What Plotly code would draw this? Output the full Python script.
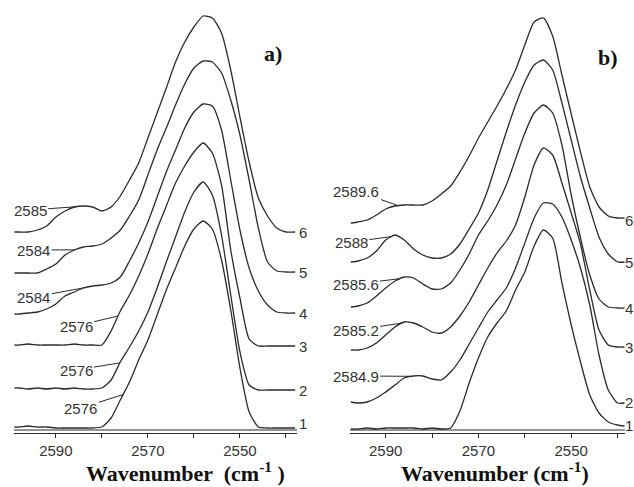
import numpy as np
import plotly.graph_objects as go

# ---------------- data ----------------
# panel a) wavenumber grid (cm-1) and intensities (a.u.)
wn_a = [2599, 2598, 2596, 2594, 2592, 2590, 2588, 2586, 2584, 2582, 2580, 2578,
        2576, 2574, 2572, 2570, 2568, 2566, 2564, 2562, 2560, 2558, 2556, 2554,
        2552, 2550, 2548, 2546, 2544, 2542, 2540, 2538]
a1 = [6, 6, 7, 6, 6, 5, 5, 5, 5, 5, 6, 15, 33, 51, 73, 93, 118, 143, 165, 187, 204, 212,
      204, 173, 123, 65, 21, 6, 5, 5, 5, 5]
a2 = [45, 45, 44, 45, 44, 45, 44, 45, 44, 44, 45, 53, 71, 86, 102, 121, 145, 171, 196, 221,
      241, 251, 238, 198, 138, 81, 48, 43, 43, 43, 43, 43]
a3 = [88, 88, 89, 88, 88, 88, 88, 89, 88, 88, 88, 102, 122, 138, 157, 179, 204, 227, 250,
      267, 281, 290, 280, 248, 183, 135, 94, 87, 87, 87, 87, 87]
a4 = [119, 119, 120, 121, 124, 129, 137, 141, 145, 147, 148, 150, 156, 172, 190, 211, 236,
      261, 283, 305, 321, 329, 327, 303, 253, 203, 165, 142, 128, 121, 120, 120]
a5 = [160, 160, 160, 160, 164, 169, 178, 183, 186, 187, 189, 195, 203, 217, 233, 258, 283,
      305, 328, 349, 365, 372, 371, 360, 333, 298, 253, 205, 171, 162, 161, 161]
a6 = [201, 201, 201, 203, 207, 216, 222, 226, 227, 226, 222, 226, 237, 253, 270, 295, 320,
      345, 371, 391, 406, 417, 415, 400, 363, 316, 271, 235, 217, 205, 201, 201]

# panel b)
wn_b = [2597.5, 2596, 2594, 2592, 2590, 2588, 2586, 2584, 2582, 2580, 2578, 2576, 2574,
        2572, 2570, 2568, 2566, 2564, 2562, 2560, 2558, 2556, 2554, 2552, 2550, 2548,
        2546, 2544, 2542, 2540, 2538.5]
b1 = [4, 4, 5, 4, 5, 5, 5, 5, 4, 5, 4, 5, 22, 50, 75, 96, 110, 122, 143, 161, 187, 203,
      195, 150, 108, 71, 38, 20, 11, 8, 7]
b2 = [31, 30, 31, 35, 41, 48, 55, 57, 57, 54, 53, 61, 73, 89, 105, 121, 133, 145, 165, 190,
      215, 230, 229, 216, 193, 165, 128, 78, 43, 30, 30]
b3 = [83, 83, 85, 90, 98, 106, 111, 110, 106, 101, 100, 106, 117, 131, 148, 165, 180, 192,
      208, 236, 268, 285, 278, 250, 220, 189, 143, 103, 88, 86, 86]
b4 = [126, 127, 130, 137, 145, 152, 156, 155, 149, 144, 144, 150, 163, 179, 198, 212, 228,
      248, 274, 300, 320, 328, 320, 288, 238, 195, 158, 134, 126, 125, 125]
b5 = [171, 172, 175, 182, 193, 198, 193, 184, 178, 175, 175, 179, 189, 204, 220, 243, 272,
      301, 328, 351, 368, 373, 363, 330, 293, 256, 225, 196, 179, 171, 171]
b6 = [210, 211, 213, 218, 224, 227, 228, 228, 228, 232, 239, 247, 261, 277, 295, 311, 327,
      344, 363, 388, 411, 415, 397, 358, 319, 281, 246, 226, 217, 215, 215]

curve_names = ["1", "2", "3", "4", "5", "6"]
peaks_a = ["2576", "2576", "2576", "2584", "2584", "2585"]
peaks_b = [None, "2584.9", "2585.2", "2585.6", "2588", "2589.6"]

major_tick_step = 20   # labelled ticks: 2590, 2570, 2550
minor_tick_step = 10

# ---------------- figure ----------------
LC = "#2b2b2b"
fig = go.Figure()
for ys in [a1, a2, a3, a4, a5, a6]:
    fig.add_trace(go.Scatter(x=wn_a, y=ys, mode="lines", xaxis="x", yaxis="y",
                             line=dict(color=LC, width=1.3, shape="spline", smoothing=0.6),
                             hoverinfo="skip", showlegend=False))
for ys in [b1, b2, b3, b4, b5, b6]:
    fig.add_trace(go.Scatter(x=wn_b, y=ys, mode="lines", xaxis="x2", yaxis="y",
                             line=dict(color=LC, width=1.3, shape="spline", smoothing=0.6),
                             hoverinfo="skip", showlegend=False))

W, H = 634, 487
xa_dom = [14 / W, 297 / W]
xb_dom = [350 / W, 625 / W]
y_dom = [1 - 433 / H, 1 - 5 / H]

axis_common = dict(showgrid=False, zeroline=False, showline=True, linecolor=LC, linewidth=1,
                   ticks="outside", ticklen=4, tickcolor=LC,
                   tickmode="linear", tick0=2550, dtick=major_tick_step,
                   minor=dict(tickmode="linear", tick0=2550, dtick=minor_tick_step,
                              ticks="outside", ticklen=4, tickcolor=LC, showgrid=False),
                   tickfont=dict(family="Liberation Sans", size=15, color="#333"))
fig.update_layout(
    width=W, height=H, margin=dict(l=0, r=0, t=0, b=0),
    paper_bgcolor="white", plot_bgcolor="white",
    xaxis=dict(domain=xa_dom, range=[2599.1, 2537.6], anchor="y", **axis_common),
    xaxis2=dict(domain=xb_dom, range=[2597.7, 2538.4], anchor="y", **axis_common),
    yaxis=dict(domain=y_dom, range=[0, 428], visible=False),
)

# second (double) axis line
for xr in ["x domain", "x2 domain"]:
    fig.add_shape(type="line", xref=xr, yref="y", x0=0, x1=1, y0=3, y1=3,
                  line=dict(color=LC, width=1))

ann = []
lab_font = dict(family="Liberation Sans", size=15, color="#333")

# curve numbers at the right end
num_y_a = [10, 43, 87, 120, 161, 201]
num_y_b = [8, 31, 86, 125, 171, 213]
for name, ya in zip(curve_names, num_y_a):
    ann.append(dict(x=303 / W, xref="paper", y=ya, yref="y", text=name, showarrow=False,
                    font=lab_font, xanchor="center", yanchor="middle"))
for name, yb in zip(curve_names, num_y_b):
    ann.append(dict(x=629 / W, xref="paper", y=yb, yref="y", text=name, showarrow=False,
                    font=lab_font, xanchor="center", yanchor="middle"))

# shoulder labels with leader lines (panel a)
curves_a = [a1, a2, a3, a4, a5, a6]
head_a = [2575.4, 2576.1, 2576.5, 2583.3, 2585.9, 2585.4]
text_a = [(2584.6, 25), (2585.6, 63), (2585.6, 107), (2594.8, 136), (2594.8, 183), (2595.6, 223)]
for lab, ys, hx, (tx, ty) in zip(peaks_a, curves_a, head_a, text_a):
    hy = float(np.interp(hx, wn_a[::-1], ys[::-1]))
    ann.append(dict(x=hx, y=hy, xref="x", yref="y", ax=tx, ay=ty, axref="x", ayref="y",
                    text=lab, showarrow=True, arrowhead=0, arrowwidth=1, arrowcolor=LC,
                    standoff=0, font=lab_font))

curves_b = [b1, b2, b3, b4, b5, b6]
head_b = [None, 2584.3, 2586.4, 2586.8, 2588.6, 2587.3]
text_b = [None, (2596.5, 57), (2596.5, 103), (2596.5, 149), (2597.4, 191), (2596.3, 242)]
for lab, ys, hx, tp in zip(peaks_b, curves_b, head_b, text_b):
    if lab is None:
        continue
    hy = float(np.interp(hx, wn_b[::-1], ys[::-1]))
    ann.append(dict(x=hx, y=hy, xref="x2", yref="y", ax=tp[0], ay=tp[1], axref="x2",
                    ayref="y", text=lab, showarrow=True, arrowhead=0, arrowwidth=1,
                    arrowcolor=LC, standoff=0, font=lab_font))

# panel tags
tag_font = dict(family="Liberation Serif", size=22, color="#111")
for tx, ty, txt in [(273, 53, "<b>a)</b>"), (608, 57, "<b>b)</b>")]:
    ann.append(dict(x=tx / W, y=1 - ty / H, xref="paper", yref="paper", text=txt,
                    showarrow=False, font=tag_font, xanchor="center", yanchor="middle"))
# axis titles (bottom-anchored so they stay inside the page)
for tx, txt in [(185, "<b>Wavenumber  (cm<sup>-1</sup> )</b>"),
                (495, "<b>Wavenumber (cm<sup>-1</sup>)</b>")]:
    ann.append(dict(x=tx / W, y=0.0, xref="paper", yref="paper", text=txt,
                    showarrow=False, font=tag_font, xanchor="center", yanchor="bottom",
                    borderpad=0))

fig.update_layout(annotations=ann)
fig.write_html("out.html")
